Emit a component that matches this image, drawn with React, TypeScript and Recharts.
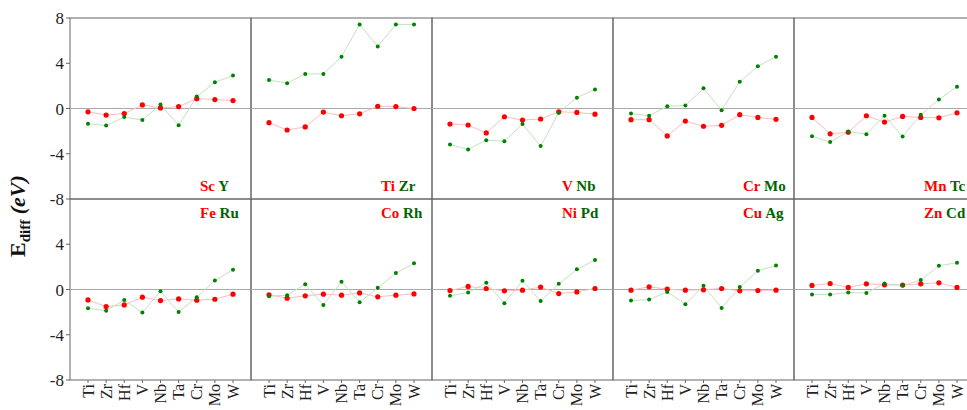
import { LineChart, Line, XAxis, YAxis, ReferenceLine } from 'recharts'

const hosts = ['Ti', 'Zr', 'Hf', 'V', 'Nb', 'Ta', 'Cr', 'Mo', 'W']
const ticksTop = [-8, -4, 0, 4, 8]
const ticksBottom = [-8, -4, 0, 4]

// E_diff (eV) per host, one array per dopant
const eSc = [-0.29, -0.58, -0.44, 0.32, 0.05, 0.17, 0.87, 0.79, 0.7]
const eY = [-1.34, -1.51, -0.76, -1.02, 0.35, -1.49, 1.05, 2.33, 2.91]
const eTi = [-1.25, -1.9, -1.63, -0.32, -0.64, -0.47, 0.2, 0.17, 0]
const eZr = [2.51, 2.24, 3.06, 3.06, 4.58, 7.43, 5.48, 7.43, 7.43]
const eV = [-1.37, -1.46, -2.16, -0.73, -1.02, -0.93, -0.29, -0.35, -0.5]
const eNb = [-3.18, -3.62, -2.8, -2.89, -1.37, -3.32, -0.38, 0.96, 1.69]
const eCr = [-0.99, -0.99, -2.42, -1.11, -1.57, -1.49, -0.55, -0.79, -0.96]
const eMo = [-0.44, -0.64, 0.2, 0.26, 1.78, -0.15, 2.36, 3.73, 4.58]
const eMn = [-0.79, -2.24, -2.1, -0.64, -1.2, -0.7, -0.79, -0.82, -0.38]
const eTc = [-2.45, -2.97, -2.04, -2.27, -0.64, -2.48, -0.55, 0.79, 1.92]
const eFe = [-0.92, -1.51, -1.36, -0.68, -0.98, -0.83, -0.95, -0.86, -0.41]
const eRu = [-1.66, -1.87, -0.92, -2.04, -0.15, -1.99, -0.68, 0.8, 1.75]
const eCo = [-0.47, -0.77, -0.56, -0.41, -0.5, -0.3, -0.65, -0.5, -0.39]
const eRh = [-0.59, -0.5, 0.47, -1.36, 0.68, -1.13, 0.15, 1.45, 2.31]
const eNi = [-0.09, 0.27, 0.09, -0.12, -0.06, 0.21, -0.36, -0.21, 0.09]
const ePd = [-0.56, -0.27, 0.59, -1.21, 0.77, -1.01, 0.5, 1.78, 2.61]
const eCu = [-0.06, 0.24, 0.03, -0.06, -0.03, 0.09, -0.12, -0.09, -0.06]
const eAg = [-0.98, -0.89, -0.21, -1.3, 0.33, -1.63, 0.21, 1.66, 2.13]
const eZn = [0.36, 0.53, 0.18, 0.5, 0.41, 0.39, 0.5, 0.59, 0.18]
const eCd = [-0.44, -0.44, -0.27, -0.3, 0.53, 0.36, 0.83, 2.1, 2.37]

const panels = [
  { red: 'Sc', green: 'Y', a: eSc, b: eY },
  { red: 'Ti', green: 'Zr', a: eTi, b: eZr },
  { red: 'V', green: 'Nb', a: eV, b: eNb },
  { red: 'Cr', green: 'Mo', a: eCr, b: eMo },
  { red: 'Mn', green: 'Tc', a: eMn, b: eTc },
  { red: 'Fe', green: 'Ru', a: eFe, b: eRu },
  { red: 'Co', green: 'Rh', a: eCo, b: eRh },
  { red: 'Ni', green: 'Pd', a: eNi, b: ePd },
  { red: 'Cu', green: 'Ag', a: eCu, b: eAg },
  { red: 'Zn', green: 'Cd', a: eZn, b: eCd },
]

const FONT = "'Liberation Serif', 'DejaVu Serif', serif"
const PLOT_X0 = 70
const PANEL_W = 181
const PANEL_H = 181
const ROW_Y = [18, 199]
const YAXIS_W = 68
const XAXIS_H = 30
const M = 2
const MV = 10
const AXIS = '#666'

const HostTick = (props: any) => {
  const { x, y, payload } = props
  return (
    <text
      x={x}
      y={y}
      transform={`rotate(-90, ${x}, ${y})`}
      textAnchor="end"
      dy="0.35em"
      fontFamily={FONT}
      fontSize={16}
      fill="#222"
    >
      {payload.value}
    </text>
  )
}

function Panel({ index }: { index: number }) {
  const p = panels[index]
  const row = Math.floor(index / 5)
  const col = index % 5
  const yw = col === 0 ? YAXIS_W : 0
  const xh = row === 1 ? XAXIS_H : 0
  const width = M + yw + PANEL_W + M
  const height = MV + PANEL_H + xh + MV
  const left = PLOT_X0 + col * PANEL_W - yw - M
  const top = ROW_Y[row] - MV
  const data = hosts.map((h, i) => ({ name: h, a: p.a[i], b: p.b[i] }))
  const plotX = M + yw
  const labelX = plotX + 130
  const labelY = MV + (row === 0 ? 173 : 19)

  return (
    <div style={{ position: 'absolute', left, top }}>
      <LineChart width={width} height={height} data={data} margin={{ top: MV, right: M, bottom: MV, left: M }}>
        <XAxis
          dataKey="name"
          type="category"
          scale="point"
          interval={0}
          padding={{ left: 18, right: 18 }}
          height={xh}
          axisLine={false}
          tickLine={row === 1 ? { stroke: AXIS } : false}
          tickSize={3}
          tickMargin={1}
          tick={row === 1 ? <HostTick /> : false}
        />
        <YAxis
          type="number"
          domain={[-8, 8]}
          ticks={row === 0 ? ticksTop : ticksBottom}
          interval={0}
          width={yw}
          axisLine={false}
          tickLine={col === 0 ? { stroke: AXIS } : false}
          tickSize={4}
          tick={col === 0 ? { fontFamily: FONT, fontSize: 17, fill: '#222' } : false}
        />
        <rect x={plotX} y={MV} width={PANEL_W} height={PANEL_H} fill="none" stroke={AXIS} strokeWidth={1} />
        <ReferenceLine y={0} stroke="#aaa" strokeWidth={1} />
        <Line
          dataKey="a"
          stroke="#ffbcbc"
          strokeWidth={1}
          dot={{ r: 2.6, fill: '#ff0000', stroke: 'none' }}
          activeDot={false}
          isAnimationActive={false}
        />
        <Line
          dataKey="b"
          stroke="#c0e4c0"
          strokeWidth={1}
          dot={{ r: 2, fill: '#008000', stroke: 'none' }}
          activeDot={false}
          isAnimationActive={false}
        />
        <text x={labelX} y={labelY} fontFamily={FONT} fontSize={15} fontWeight="bold">
          <tspan fill="#ff0000">{p.red}</tspan>
          <tspan fill="#006400"> {p.green}</tspan>
        </text>
      </LineChart>
    </div>
  )
}

export default function App() {
  return (
    <div
      style={{
        position: 'absolute',
        left: 0,
        top: 0,
        width: 967,
        height: 410,
        overflow: 'hidden',
        background: '#fff',
      }}
    >
      {panels.map((_, i) => (
        <Panel key={i} index={i} />
      ))}
      <svg width={40} height={410} style={{ position: 'absolute', left: 0, top: 0 }}>
        <text
          x={25}
          y={257}
          transform="rotate(-90, 25, 257)"
          fontFamily={FONT}
          fontSize={22}
          fontWeight="bold"
          fill="#111"
        >
          E
          <tspan fontSize={15} dy={5}>diff</tspan>
          <tspan dy={-5} fontStyle="italic"> (eV)</tspan>
        </text>
      </svg>
    </div>
  )
}
